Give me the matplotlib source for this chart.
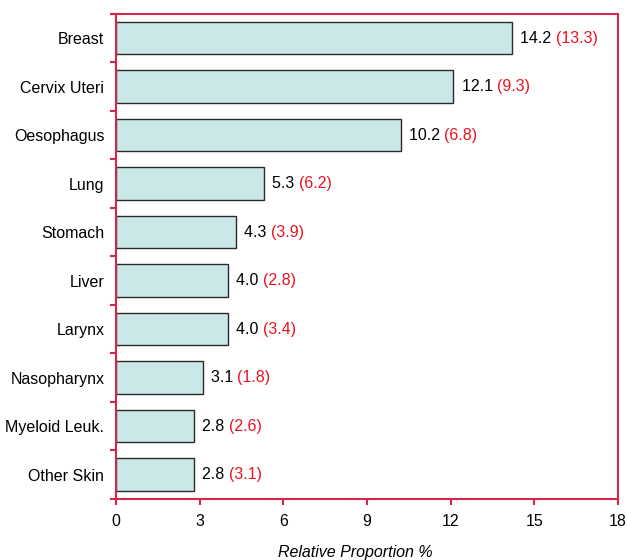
import matplotlib
matplotlib.use("Agg")
import matplotlib.pyplot as plt
import numpy as np

sites = ['Breast', 'Cervix Uteri', 'Oesophagus', 'Lung', 'Stomach', 'Liver',
         'Larynx', 'Nasopharynx', 'Myeloid Leuk.', 'Other Skin']
values = [14.2, 12.1, 10.2, 5.3, 4.3, 4.0, 4.0, 3.1, 2.8, 2.8]
paren = ['13.3', '9.3', '6.8', '6.2', '3.9', '2.8', '3.4', '1.8', '2.6', '3.1']
xticks = [0, 3, 6, 9, 12, 15, 18]

frame = '#d3284a'
fs = 11.5
plt.rcParams['font.family'] = ['Liberation Sans', 'DejaVu Sans']

fig = plt.figure(figsize=(6.28, 5.60), dpi=100)
ax = fig.add_axes([0.185, 0.109, 0.799, 0.866])

y = np.arange(len(sites))
ax.barh(y, values, height=0.67, color='#cbe8e9', edgecolor='#2a2a2a', linewidth=1.0)

# value label, then the bracketed figure in red right after it
for yi, v, p in zip(y, values, paren):
    t = ax.annotate(f'{v:.1f} ', xy=(v, yi), xytext=(5.8, 0), textcoords='offset points',
                    va='center', ha='left', fontsize=fs, color='black')
    ax.annotate(f'({p})', xy=(1, 0.5), xycoords=t, va='center', ha='left',
                fontsize=fs, color='#e8141e')

ax.set_ylim(len(sites) - 0.5, -0.5)
ax.set_xlim(0, 18)
ax.set_xticks(xticks)
ax.set_xticklabels([str(x) for x in xticks], fontsize=fs)

ax.set_yticks(y)
ax.set_yticklabels(sites, fontsize=fs)
ax.tick_params(axis='y', which='major', length=0, pad=8.5)
ax.set_yticks(np.arange(-0.5, len(sites)), minor=True)
ax.tick_params(axis='y', which='minor', length=4.5, width=1.5, color=frame, direction='out')
ax.tick_params(axis='x', length=4, width=1.5, color=frame, direction='out', pad=7)

for s in ax.spines.values():
    s.set_color(frame)
    s.set_linewidth(1.5)

ax.set_xlabel('Relative Proportion %', fontsize=fs, style='italic', va='top')
ax.xaxis.set_label_coords(0.476, -0.094)

fig.savefig('out.png', dpi=100)
